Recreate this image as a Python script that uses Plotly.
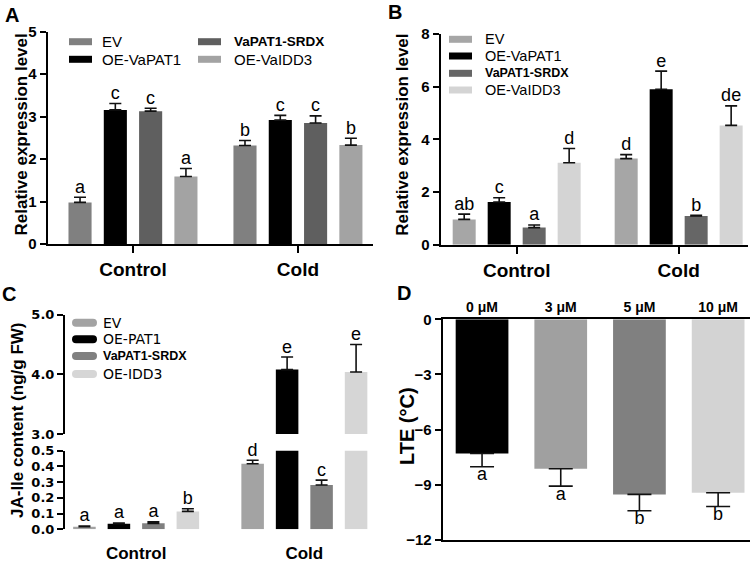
import plotly.graph_objects as go

W, H = 755, 566
FONT = "Liberation Sans, Arial, sans-serif"
WIDE = "DejaVu Sans, Liberation Sans, sans-serif"


def px(x):
    return x / W


def py(y):
    return 1 - y / H


# ---------------- DATA ----------------
groups = ["Control", "Cold"]

# Panel A
a_names = ["EV", "OE-VaPAT1", "VaPAT1-SRDX", "OE-VaIDD3"]
a_ev = [0.98, 2.32]
a_ev_err = [0.12, 0.12]
a_oe = [3.16, 2.92]
a_oe_err = [0.15, 0.11]
a_srdx = [3.13, 2.85]
a_srdx_err = [0.07, 0.17]
a_idd3 = [1.59, 2.33]
a_idd3_err = [0.19, 0.16]
a_letters = [["a", "b"], ["c", "c"], ["c", "c"], ["a", "b"]]

# Panel B
b_names = ["EV", "OE-VaPAT1", "VaPAT1-SRDX", "OE-VaIDD3"]
b_ev = [0.96, 3.27]
b_ev_err = [0.20, 0.15]
b_oe = [1.62, 5.90]
b_oe_err = [0.16, 0.69]
b_srdx = [0.65, 1.09]
b_srdx_err = [0.10, 0.03]
b_idd3 = [3.11, 4.53]
b_idd3_err = [0.54, 0.74]
b_letters = [["ab", "d"], ["c", "e"], ["a", "b"], ["d", "de"]]

# Panel C
c_names = ["EV", "OE-PAT1", "VaPAT1-SRDX", "OE-IDD3"]
c_ev = [0.017, 0.417]
c_ev_err = [0.004, 0.022]
c_oe = [0.036, 4.08]
c_oe_err = [0.004, 0.21]
c_srdx = [0.038, 0.282]
c_srdx_err = [0.009, 0.031]
c_idd3 = [0.114, 4.04]
c_idd3_err = [0.017, 0.46]
c_letters = [["a", "d"], ["a", "e"], ["a", "c"], ["b", "e"]]

# Panel D
d_conc = ["0 μM", "3 μM", "5 μM", "10 μM"]
d_lte = [-7.30, -8.13, -9.52, -9.43]
d_lte_err = [0.72, 0.94, 0.89, 0.75]
d_letters = ["a", "a", "b", "b"]

a_ticks = [0, 1, 2, 3, 4, 5]
b_ticks = [0, 2, 4, 6, 8]
c_low_ticks = [0.0, 0.1, 0.2, 0.3, 0.4, 0.5]
c_high_ticks = [3.0, 4.0, 5.0]
d_ticks = [0, -3, -6, -9, -12]

# ---------------- STYLE ----------------
a_colors = ["#808080", "#000000", "#5f5f5f", "#a3a3a3"]
b_colors = ["#a6a6a6", "#000000", "#666666", "#d4d4d4"]
c_colors = ["#a3a3a3", "#000000", "#808080", "#d6d6d6"]
d_colors = ["#000000", "#a0a0a0", "#808080", "#d3d3d3"]

fig = go.Figure()


def err_style(arr, arrm, w):
    return dict(type="data", array=arr, arrayminus=arrm, symmetric=False,
                color="#111111", thickness=1.6, width=w)


def add_group_panel(vals, errs, letters, colors, slot, width, xa, ya,
                    ya_top=None, split=None, lsize=18):
    for i, (v, e, lt, col) in enumerate(zip(vals, errs, letters, colors)):
        xs = [g + (i - 1.5) * slot for g in range(len(groups))]
        for yy in ([ya] if ya_top is None else [ya, ya_top]):
            fig.add_trace(go.Bar(
                x=xs, y=v, width=width,
                marker=dict(color=col, line=dict(width=0)),
                error_y=err_style(e, [0] * len(e), 6),
                xaxis=xa, yaxis=yy, showlegend=False, hoverinfo="skip"))
        tops = [vv + ee for vv, ee in zip(v, e)]
        parts = [(ya, list(zip(xs, tops, lt)))]
        if split is not None:
            parts = [(ya, [p for p in zip(xs, tops, lt) if p[1] <= split]),
                     (ya_top, [p for p in zip(xs, tops, lt) if p[1] > split])]
        for yy, part in parts:
            if part:
                fig.add_trace(go.Scatter(
                    x=[p[0] for p in part], y=[p[1] for p in part],
                    mode="text", text=[p[2] for p in part],
                    textposition="top center",
                    textfont=dict(size=lsize, color="black", family=FONT),
                    cliponaxis=False, showlegend=False, hoverinfo="skip",
                    xaxis=xa, yaxis=yy))


add_group_panel([a_ev, a_oe, a_srdx, a_idd3],
                [a_ev_err, a_oe_err, a_srdx_err, a_idd3_err],
                a_letters, a_colors, 0.214, 0.14, "x", "y")
add_group_panel([b_ev, b_oe, b_srdx, b_idd3],
                [b_ev_err, b_oe_err, b_srdx_err, b_idd3_err],
                b_letters, b_colors, 0.216, 0.142, "x2", "y2")
add_group_panel([c_ev, c_oe, c_srdx, c_idd3],
                [c_ev_err, c_oe_err, c_srdx_err, c_idd3_err],
                c_letters, c_colors, 0.205, 0.134, "x3", "y3",
                ya_top="y4", split=0.5)

# Panel D
d_x = list(range(len(d_conc)))
fig.add_trace(go.Bar(
    x=d_x, y=d_lte, width=0.67, marker=dict(color=d_colors, line=dict(width=0)),
    error_y=err_style([0] * len(d_lte), d_lte_err, 12),
    xaxis="x5", yaxis="y5", showlegend=False, hoverinfo="skip"))
fig.add_trace(go.Scatter(
    x=d_x, y=[v - e for v, e in zip(d_lte, d_lte_err)], mode="text",
    text=d_letters, textposition="bottom center",
    textfont=dict(size=18, color="black", family=FONT),
    cliponaxis=False, showlegend=False, hoverinfo="skip",
    xaxis="x5", yaxis="y5"))

# ---------------- AXES ----------------
bold_tick = dict(family=FONT, size=15, color="black", weight="bold")
c_tick = dict(family=WIDE, size=13, color="black", weight="bold")
cat_font = dict(family=FONT, size=19, color="black", weight="bold")
base = dict(showline=True, linecolor="black", linewidth=2, showgrid=False,
            zeroline=False, automargin=False, tickcolor="black", tickwidth=2)

fig.update_layout(
    template="none",
    width=W, height=H, margin=dict(l=0, r=0, t=0, b=0, pad=0, autoexpand=False),
    plot_bgcolor="white", paper_bgcolor="white", barmode="overlay",
    font=dict(family=FONT, color="black"),
    xaxis=dict(domain=[px(47.7), px(373)], range=[-0.517, 1.455],
               tickvals=[0, 1], ticktext=groups, ticks="outside", ticklen=7,
               tickfont=cat_font, anchor="y", **base),
    yaxis=dict(domain=[py(244), py(31.8)], range=[0, 5], tickvals=a_ticks,
               ticks="outside", ticklen=6, tickfont=bold_tick, anchor="x",
               **base),
    xaxis2=dict(domain=[px(440.7), px(748)], range=[-0.469, 1.428],
                tickvals=[0, 1], ticktext=groups, ticks="outside", ticklen=7,
                tickfont=cat_font, anchor="y2", **base),
    yaxis2=dict(domain=[py(244.7), py(34)], range=[0, 8], tickvals=b_ticks,
                ticks="outside", ticklen=6, tickfont=bold_tick, anchor="x2",
                **base),
    xaxis3=dict(domain=[px(65), px(375)], range=[-0.423, 1.42],
                tickvals=[0, 1], ticktext=groups, ticks="outside",
                ticklen=8, tickcolor="rgba(0,0,0,0)", showline=False,
                showgrid=False, zeroline=False, automargin=False,
                tickfont=dict(family=FONT, size=17, color="black",
                              weight="bold"), anchor="y3"),
    yaxis3=dict(domain=[py(529.3), py(450.7)], range=[0, 0.5],
                tickvals=c_low_ticks, tickformat=".1f", ticks="outside",
                ticklen=6, tickfont=c_tick, anchor="x3", **base),
    yaxis4=dict(domain=[py(434), py(314.7)], range=[3, 5],
                tickvals=c_high_ticks, tickformat=".1f", ticks="outside",
                ticklen=6, tickfont=c_tick, anchor="x3", **base),
    xaxis5=dict(domain=[px(442.7), px(750)], range=[-0.5, 3.405],
                tickvals=d_x, ticktext=d_conc, ticks="", side="top",
                mirror=True, tickfont=dict(family=FONT, size=14, color="black",
                                           weight="bold"),
                anchor="y5", **base),
    yaxis5=dict(domain=[py(540), py(319.3)], range=[-12, 0], tickvals=d_ticks,
                ticks="outside", ticklen=6, tickfont=bold_tick, anchor="x5",
                **base),
)

# ---------------- ANNOTATIONS ----------------
ann = []
for letter, (lx, ly) in zip("ABCD", [(12, 15), (395, 12), (9, 294), (404, 293)]):
    ann.append(dict(x=px(lx), y=py(ly), xref="paper", yref="paper",
                    text=f"<b>{letter}</b>", showarrow=False,
                    font=dict(family=FONT, size=20, color="black"),
                    xanchor="center", yanchor="middle"))

titles = [("Relative expression level", 20.5, 135, 17),
          ("Relative expression level", 401.7, 135, 17),
          ("JA-Ile content (ng/g FW)", 17, 421, 17),
          ("LTE (°C)", 407, 426, 20)]
for t, tx, ty, fs in titles:
    ann.append(dict(x=px(tx), y=py(ty), xref="paper", yref="paper",
                    text=f"<b>{t}</b>", textangle=-90, showarrow=False,
                    font=dict(family=FONT, size=fs, color="black"),
                    xanchor="center", yanchor="middle"))

shapes = []


def legend_item(name, color, sx0, sx1, cy, tx, h=7, rounded=False,
                fsize=15, bsize=13.5, family=FONT):
    if rounded:
        r = h / 2
        x0, x1, y0, y1 = sx0, sx1, cy - h / 2, cy + h / 2
        path = (f"M{px(x0 + r)},{py(y0)} L{px(x1 - r)},{py(y0)} "
                f"Q{px(x1)},{py(y0)} {px(x1)},{py(cy)} "
                f"Q{px(x1)},{py(y1)} {px(x1 - r)},{py(y1)} "
                f"L{px(x0 + r)},{py(y1)} "
                f"Q{px(x0)},{py(y1)} {px(x0)},{py(cy)} "
                f"Q{px(x0)},{py(y0)} {px(x0 + r)},{py(y0)} Z")
        shapes.append(dict(type="path", path=path, xref="paper", yref="paper",
                           fillcolor=color, line=dict(width=0)))
    else:
        shapes.append(dict(type="rect", xref="paper", yref="paper",
                           x0=px(sx0), x1=px(sx1), y0=py(cy - h / 2),
                           y1=py(cy + h / 2), fillcolor=color,
                           line=dict(width=0)))
    if "SRDX" in name:
        txt = f"<b>{name}</b>"
        font = dict(family=FONT, size=bsize, color="black")
    else:
        txt = name
        font = dict(family=family, size=fsize, color="black")
    ann.append(dict(x=px(tx), y=py(cy), xref="paper", yref="paper", text=txt,
                    showarrow=False, xanchor="left", yanchor="middle",
                    font=font))


# Legend A (2 x 2)
a_pos = [(69, 92, 41.7, 100), (69, 92, 59.3, 100),
         (198, 221, 41.7, 232), (198, 221, 59.3, 232)]
for n, c, (sx0, sx1, cy, tx) in zip(a_names, a_colors, a_pos):
    legend_item(n, c, sx0, sx1, cy, tx, fsize=15, bsize=13.5)

# Legend B
for n, c, cy in zip(b_names, b_colors, [39.3, 56, 73.3, 90]):
    legend_item(n, c, 449, 472, cy, 483, fsize=14.5, bsize=12.5)

# Legend C
for n, c, cy in zip(c_names, c_colors, [322.7, 339.3, 356, 374]):
    legend_item(n, c, 72, 97, cy, 101, h=8, rounded=True, fsize=14,
                bsize=12.5, family=WIDE)

fig.update_layout(annotations=ann, shapes=shapes)

fig.write_html(
    "out.html",
    config={"displayModeBar": False},
    post_script="document.body.style.margin='0';"
                "document.body.style.overflow='hidden';")
